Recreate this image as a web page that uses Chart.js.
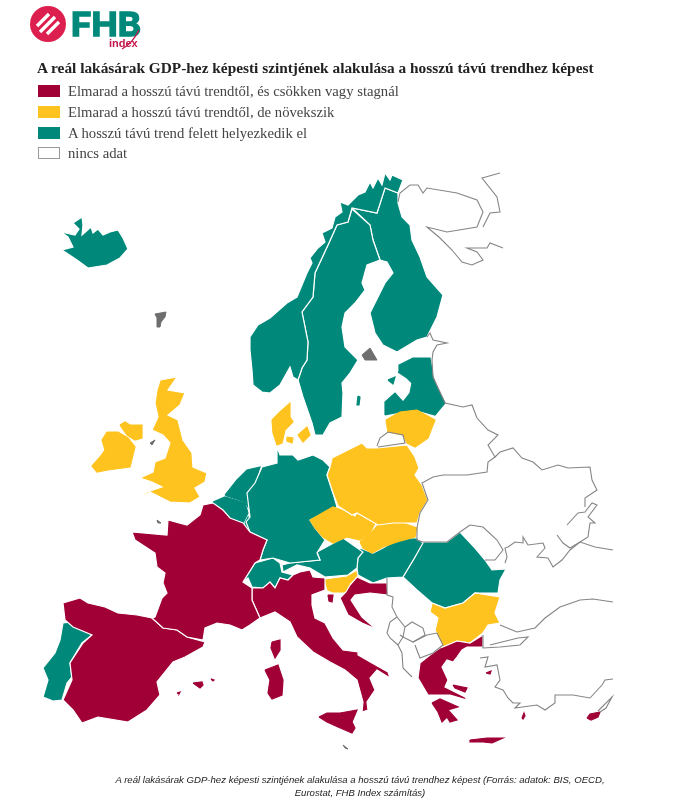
<!DOCTYPE html>
<html lang="hu">
<head>
    <meta charset="UTF-8">
    <title>A reál lakásárak GDP-hez képesti szintjének alakulása</title>
    <script src="https://cdn.jsdelivr.net/npm/chart.js"></script>
    <style>
        html, body { margin: 0; background: white; }
        #page { position: relative; width: 700px; height: 802px; overflow: hidden; }
        #map { position: absolute; left: 0; top: 0; }
        #logo { position: absolute; left: 0; top: 0; }
        #title {
            position: absolute; left: 37px; top: 59px; white-space: nowrap;
            font: bold 15.35px "Liberation Serif", serif; color: #222;
        }
        .row {
            position: absolute; left: 38px; height: 14px; white-space: nowrap;
            font: 14.7px/14px "Liberation Serif", serif; color: #444;
        }
        .row i { position: absolute; left: 0; top: 1px; width: 22px; height: 12px; box-sizing: border-box; }
        .row span { position: absolute; left: 30px; top: 0; }
        #caption {
            position: absolute; left: 100px; top: 773px; width: 520px; text-align: center;
            font: italic 9.6px/13px "Liberation Sans", sans-serif; color: #222;
        }
    </style>
</head>
<body>
<div id="page">
    <canvas id="map" width="700" height="802"></canvas>
    <svg id="logo" width="160" height="56">
        <circle cx="48" cy="24" r="18" fill="#dc1f4f"/>
        <path d="M37 26 L49 14 M40 32 L55 17 M47 34 L59 22" stroke="white" stroke-width="3.4"/>
        <text x="71" y="36" font-family="Inter, 'Liberation Sans', sans-serif" font-weight="700" font-size="33" fill="#00897b" stroke="#00897b" stroke-width="1.4" textLength="70" lengthAdjust="spacingAndGlyphs">FHB</text>
        <text x="109" y="47" font-family="'Liberation Sans', sans-serif" font-weight="700" font-size="11" fill="#c2184b">index</text>
        <path d="M122 49 Q132 44 139 30" stroke="#c2184b" stroke-width="1.3" fill="none"/>
    </svg>
    <div id="title">A reál lakásárak GDP-hez képesti szintjének alakulása a hosszú távú trendhez képest</div>
    <div id="legend"></div>
    <div id="caption">A reál lakásárak GDP-hez képesti szintjének alakulása a hosszú távú trendhez képest (Forrás: adatok: BIS, OECD, Eurostat, FHB Index számítás)</div>
</div>
<script>
    // legend categories
    const categories = [
        'Elmarad a hosszú távú trendtől, és csökken vagy stagnál',
        'Elmarad a hosszú távú trendtől, de növekszik',
        'A hosszú távú trend felett helyezkedik el',
        'nincs adat'
    ];
    const categoryColors = ['#a00035', '#ffc31f', '#00897b', '#ffffff'];

    // outlines (map units = picture px)
    const iceland = [[62,250],[73,247],[68,237],[61,232],[75,235],[79,229],[73,223],[82,217],[83,225],[82,235],[91,227],[93,233],[98,229],[103,235],[110,232],[118,230],[123,238],[128,249],[120,258],[107,265],[88,268],[77,260]];
    const norway = [[253,385],[252,370],[250,350],[250,337],[258,325],[270,318],[287,303],[297,297],[307,273],[312,263],[310,258],[318,248],[325,242],[322,233],[332,228],[335,217],[342,212],[340,202],[348,205],[358,195],[365,192],[370,182],[373,188],[378,178],[382,185],[385,173],[390,180],[392,175],[403,180],[398,193],[385,188],[377,213],[352,208],[348,222],[337,225],[328,245],[315,273],[313,297],[302,312],[308,342],[307,360],[302,368],[298,380],[293,377],[290,367],[280,385],[270,393],[262,392]];
    const sweden = [[352,209],[370,225],[373,240],[380,260],[367,265],[362,283],[365,290],[355,303],[345,313],[342,327],[345,347],[358,360],[350,373],[342,383],[343,393],[342,417],[330,423],[323,435],[315,435],[312,423],[303,397],[298,380],[302,368],[307,360],[308,342],[302,312],[313,297],[315,273],[328,245],[337,225],[348,222]];
    const gotland = [[358,396],[360,397],[359,405],[357,405]];
    const finland = [[398,193],[398,203],[402,217],[410,225],[412,240],[420,257],[427,277],[443,295],[437,317],[427,337],[417,340],[397,352],[383,345],[375,333],[370,313],[385,283],[393,273],[387,262],[380,260],[373,240],[370,225],[352,208],[377,213],[385,188]];
    const estonia = [[398,372],[399,365],[413,358],[430,358],[433,377],[437,387],[412,383],[407,378]];
    const saaremaa = [[388,380],[395,377],[393,384]];
    const latvia = [[385,415],[385,402],[395,393],[403,402],[410,393],[412,383],[437,387],[445,403],[435,415],[417,410],[400,412]];
    const lithuania = [[386,420],[400,412],[417,410],[435,420],[428,438],[415,447],[407,443],[403,435],[388,432]];
    const poland = [[332,458],[362,443],[367,448],[377,448],[407,445],[415,457],[419,468],[415,475],[422,485],[428,500],[420,513],[417,523],[403,523],[393,523],[378,525],[357,513],[352,515],[338,506],[333,493],[327,475],[330,467]];
    const germany = [[277,447],[280,455],[293,455],[298,460],[313,455],[323,460],[330,467],[327,475],[333,493],[337,507],[310,520],[315,528],[325,540],[317,553],[320,560],[290,563],[273,558],[260,560],[263,550],[267,540],[250,532],[246,522],[250,517],[247,493],[255,483],[262,467],[277,463]];
    const netherlands = [[225,495],[237,480],[247,470],[260,467],[255,483],[247,493],[248,507],[245,502],[227,496]];
    const belgium = [[213,502],[225,497],[245,503],[248,513],[243,523],[230,518],[223,510]];
    const luxembourg = [[245,523],[248,517],[252,530],[247,528]];
    const france = [[213,503],[203,505],[200,515],[187,525],[168,520],[167,535],[132,532],[135,540],[155,553],[157,567],[165,573],[163,583],[167,593],[162,598],[155,617],[152,618],[163,628],[177,630],[187,637],[203,640],[205,628],[217,623],[230,625],[242,630],[250,625],[260,618],[252,600],[252,588],[243,582],[255,563],[260,560],[263,550],[267,540],[250,532],[243,523],[230,518],[223,510]];
    const corsica = [[272,642],[280,640],[280,650],[275,658],[271,648]];
    const sardinia = [[265,670],[278,665],[283,680],[282,695],[272,699],[268,693],[270,680]];
    const sicily = [[319,717],[327,713],[340,713],[357,710],[352,722],[355,728],[352,733],[338,727],[327,722]];
    const italy = [[252,588],[263,588],[270,582],[275,588],[280,578],[288,580],[293,575],[300,572],[310,570],[313,577],[325,578],[325,590],[312,595],[312,605],[315,618],[325,623],[333,638],[343,650],[358,652],[358,655],[372,663],[388,672],[390,678],[377,670],[370,678],[375,690],[367,702],[368,710],[362,712],[363,702],[357,680],[345,670],[330,662],[313,652],[297,637],[290,622],[275,612],[260,618],[252,600]];
    const slovenia = [[325,580],[347,577],[356,572],[357,577],[350,583],[347,592],[333,592],[328,590]];
    const croatia = [[350,585],[357,577],[370,583],[387,583],[388,595],[370,593],[355,595],[351,600],[362,617],[376,629],[362,623],[348,615],[340,598],[346,592]];
    const istria = [[328,595],[333,595],[332,602],[329,601]];
    const austria = [[317,552],[343,538],[363,552],[358,558],[357,568],[348,575],[325,577],[310,568],[297,565],[283,572],[282,565],[290,563],[320,560]];
    const switzerland = [[243,582],[255,563],[273,558],[280,563],[282,572],[293,575],[288,580],[280,578],[275,588],[270,582],[263,588],[252,587],[248,578]];
    const czechia = [[310,520],[333,507],[350,513],[355,518],[358,513],[375,523],[370,533],[360,540],[347,537],[333,543],[323,537],[315,528]];
    const slovakia = [[360,542],[372,532],[378,525],[393,523],[403,523],[417,528],[415,537],[397,542],[383,547],[372,553],[363,548]];
    const hungary = [[360,548],[373,553],[383,548],[400,538],[417,538],[423,543],[415,557],[403,577],[387,578],[373,583],[358,575],[357,568],[358,557]];
    const romania = [[423,542],[447,542],[460,532],[475,548],[485,560],[492,570],[506,569],[500,580],[498,593],[475,593],[463,603],[445,608],[432,603],[417,590],[403,577],[415,557]];
    const bulgaria = [[432,603],[445,608],[463,603],[475,593],[500,597],[495,613],[500,623],[488,625],[483,633],[470,643],[457,641],[443,647],[435,630],[438,618],[430,612]];
    const greece = [[443,647],[457,641],[470,643],[483,635],[483,647],[467,647],[462,650],[457,657],[453,662],[447,660],[442,667],[448,680],[445,687],[465,697],[467,700],[450,695],[428,695],[418,678],[420,663],[430,655],[440,648]];
    const peloponnese = [[432,703],[440,699],[458,707],[448,710],[457,720],[450,722],[447,717],[442,722],[438,712]];
    const euboea = [[453,685],[467,688],[465,692],[455,688]];
    const lesbos = [[486,673],[491,671],[490,674]];
    const crete = [[470,740],[487,738],[503,738],[492,743],[483,742],[470,742]];
    const rhodes = [[522,718],[524,713],[525,716],[523,719]];
    const cyprus = [[587,718],[590,714],[600,712],[598,717],[591,720]];
    const spain = [[63,603],[80,598],[88,603],[105,607],[118,613],[137,615],[152,618],[163,628],[177,630],[187,637],[205,642],[203,647],[185,657],[173,662],[157,682],[160,695],[147,710],[128,722],[98,717],[82,723],[73,710],[63,700],[72,680],[70,663],[83,643],[92,635],[73,627],[65,620]];
    const mallorca = [[193,683],[202,682],[203,685],[200,688]];
    const menorca = [[211,679],[214,680],[213,681]];
    const ibiza = [[177,693],[180,692],[179,694]];
    const portugal = [[63,623],[72,622],[77,627],[88,628],[92,635],[82,643],[70,663],[72,677],[67,683],[62,700],[53,701],[43,697],[48,680],[43,668],[55,653],[60,640]];
    const britain = [[160,380],[177,377],[168,390],[185,393],[180,405],[168,415],[178,420],[183,440],[192,453],[193,467],[207,473],[205,482],[195,488],[200,497],[190,503],[170,502],[160,497],[150,492],[133,503],[147,492],[162,487],[152,482],[140,478],[153,472],[155,462],[165,458],[170,443],[163,435],[152,430],[158,417],[155,403],[157,390]];
    const northernIreland = [[120,425],[125,422],[130,425],[142,425],[142,438],[135,440],[127,435],[122,428]];
    const ireland = [[107,432],[118,432],[128,438],[135,447],[130,467],[108,470],[97,472],[92,466],[100,457],[105,450],[102,440]];
    const jutland = [[272,420],[280,412],[290,403],[290,417],[293,422],[285,430],[282,443],[277,445],[273,433]];
    const zealand = [[298,435],[307,427],[310,435],[303,442]];
    const funen = [[287,437],[293,438],[292,443],[287,441]];

    // areas without data, outline only
    const faroe = [[155,314],[166,312],[165,317],[161,322],[160,327],[157,327],[157,318]];
    const aland = [[362,355],[370,348],[377,360],[365,360]];
    const kaliningrad = [[377,446],[380,438],[388,432],[403,435],[405,443],[378,447]];
    const kola = [[398,202],[400,193],[410,185],[418,185],[423,193],[427,188],[457,193],[477,200],[483,212],[477,227],[447,232],[427,227],[440,238],[452,250],[462,262],[472,265],[483,260],[477,252],[467,248],[487,248],[490,243],[503,248]];
    const whiteSea = [[483,227],[490,213],[500,212],[497,197],[482,178],[500,173]];
    const petersburg = [[427,337],[430,333],[433,340],[447,343],[437,345],[433,352],[432,360],[433,377],[440,392],[445,403],[463,407],[472,405],[477,418],[488,430],[498,435],[488,445],[495,457],[488,462],[487,472],[467,475],[443,475],[433,477],[422,483],[428,500],[420,513],[417,528],[417,540],[423,542],[447,542],[460,532]];
    const ukraineNorth = [[495,457],[500,452],[513,448],[522,458],[533,462],[542,470],[558,465],[568,468],[590,467],[592,480],[597,490],[585,498],[585,507]];
    const moldova = [[470,525],[483,527],[497,540],[503,550],[495,560],[485,560]];
    const blackSeaNorth = [[460,532],[470,525]];
    const odessa = [[505,563],[507,557],[505,548],[508,547],[515,542],[523,543],[523,537],[528,545],[543,543],[545,548],[537,557],[548,558],[553,567],[562,560],[570,550],[580,542],[595,547],[613,550]];
    const crimea = [[557,535],[563,543],[570,548],[580,542],[588,537],[590,523],[595,523],[588,517],[597,505],[592,503],[585,512],[578,513],[567,525]];
    const turkeyNorth = [[500,625],[517,632],[535,628],[545,618],[560,607],[580,600],[593,599],[613,602]];
    const thrace = [[483,635],[483,648],[500,647],[520,645],[528,637],[518,638],[502,642],[490,645]];
    const turkeyWest = [[480,658],[488,657],[485,667],[497,665],[500,680],[495,687],[503,690],[508,698],[513,703],[520,703],[515,708],[537,705],[545,710],[555,703],[555,695],[573,695],[590,698],[602,685],[605,680],[613,679]];
    const northCyprus = [[598,711],[612,697],[606,708],[600,712]];
    const serbiaWest = [[387,578],[387,595],[393,597],[392,607],[397,617],[390,622],[387,633],[390,638],[398,645]];
    const kosovo = [[397,617],[405,627],[412,622],[423,628],[425,635],[413,642],[403,637],[405,627]];
    const macedonia = [[413,642],[427,635],[437,633],[443,645],[433,653],[420,658],[415,645]];
    const albania = [[400,635],[403,637],[398,645],[402,653],[403,668],[412,677]];
    const manIsle = [[150,443],[155,440],[152,445]];
    const channelIslands = [[157,520],[161,523],[158,523]];
    const malta = [[343,745],[348,749],[345,748]];

    const colorIndex = { down: 0, up: 1, above: 2, none: 3 };
    const regions = [
        [france, 'down'], [corsica, 'down'], [spain, 'down'], [mallorca, 'down'], [menorca, 'down'], [ibiza, 'down'], [italy, 'down'],
        [sardinia, 'down'], [sicily, 'down'], [croatia, 'down'], [istria, 'down'], [greece, 'down'],
        [peloponnese, 'down'], [euboea, 'down'], [lesbos, 'down'], [crete, 'down'], [rhodes, 'down'], [cyprus, 'down'],
        [britain, 'up'], [ireland, 'up'], [northernIreland, 'up'], [jutland, 'up'], [zealand, 'up'],
        [funen, 'up'], [poland, 'up'], [lithuania, 'up'], [czechia, 'up'], [slovakia, 'up'],
        [slovenia, 'up'], [bulgaria, 'up'],
        [iceland, 'above'], [norway, 'above'], [sweden, 'above'], [gotland, 'above'], [finland, 'above'],
        [estonia, 'above'], [saaremaa, 'above'], [latvia, 'above'], [germany, 'above'], [netherlands, 'above'],
        [belgium, 'above'], [luxembourg, 'above'], [austria, 'above'], [switzerland, 'above'],
        [hungary, 'above'], [romania, 'above'], [portugal, 'above']
    ];
    const grayFilled = [faroe, aland, manIsle, channelIslands, malta];
    const outlines = [kaliningrad, kola, whiteSea, petersburg, ukraineNorth, moldova, blackSeaNorth, odessa, crimea,
        turkeyNorth, thrace, turkeyWest, northCyprus, serbiaWest, kosovo, macedonia, albania];

    function toPoints(list) {
        return list.map(p => ({ x: p[0], y: p[1] }));
    }

    const datasets = [];
    outlines.forEach(list => {
        datasets.push({ data: toPoints(list), showLine: true, fill: false, borderColor: '#858585', borderWidth: 1.1, pointRadius: 0 });
    });
    grayFilled.forEach(list => {
        datasets.push({ data: toPoints(list.concat([list[0]])), showLine: true, fill: 'shape', backgroundColor: '#6e6e6e', borderColor: '#6e6e6e', borderWidth: 1, pointRadius: 0 });
    });
    regions.forEach(r => {
        const color = categoryColors[colorIndex[r[1]]];
        // small islands keep their own colour on the edge, the white line would eat them
        datasets.push({ data: toPoints(r[0].concat([r[0][0]])), showLine: true, fill: 'shape', backgroundColor: color, borderColor: r[0].length > 12 ? '#ffffff' : color, borderWidth: 1.2, pointRadius: 0 });
    });

    new Chart(document.getElementById('map'), {
        type: 'scatter',
        data: { datasets: datasets },
        options: {
            responsive: false,
            animation: false,
            layout: { padding: 0 },
            plugins: { legend: { display: false }, tooltip: { enabled: false } },
            scales: {
                x: { type: 'linear', min: 0, max: 700, display: false },
                y: { type: 'linear', min: 0, max: 802, reverse: true, display: false }
            }
        }
    });

    // legend rows
    const rowTops = [84, 105, 126, 146];
    const legendBox = document.getElementById('legend');
    categories.forEach((label, i) => {
        const row = document.createElement('div');
        row.className = 'row';
        row.style.top = rowTops[i] + 'px';
        const box = document.createElement('i');
        box.style.background = categoryColors[i];
        if (i === 3) box.style.border = '1px solid #999';
        const text = document.createElement('span');
        text.textContent = label;
        row.appendChild(box);
        row.appendChild(text);
        legendBox.appendChild(row);
    });
</script>
</body>
</html>
